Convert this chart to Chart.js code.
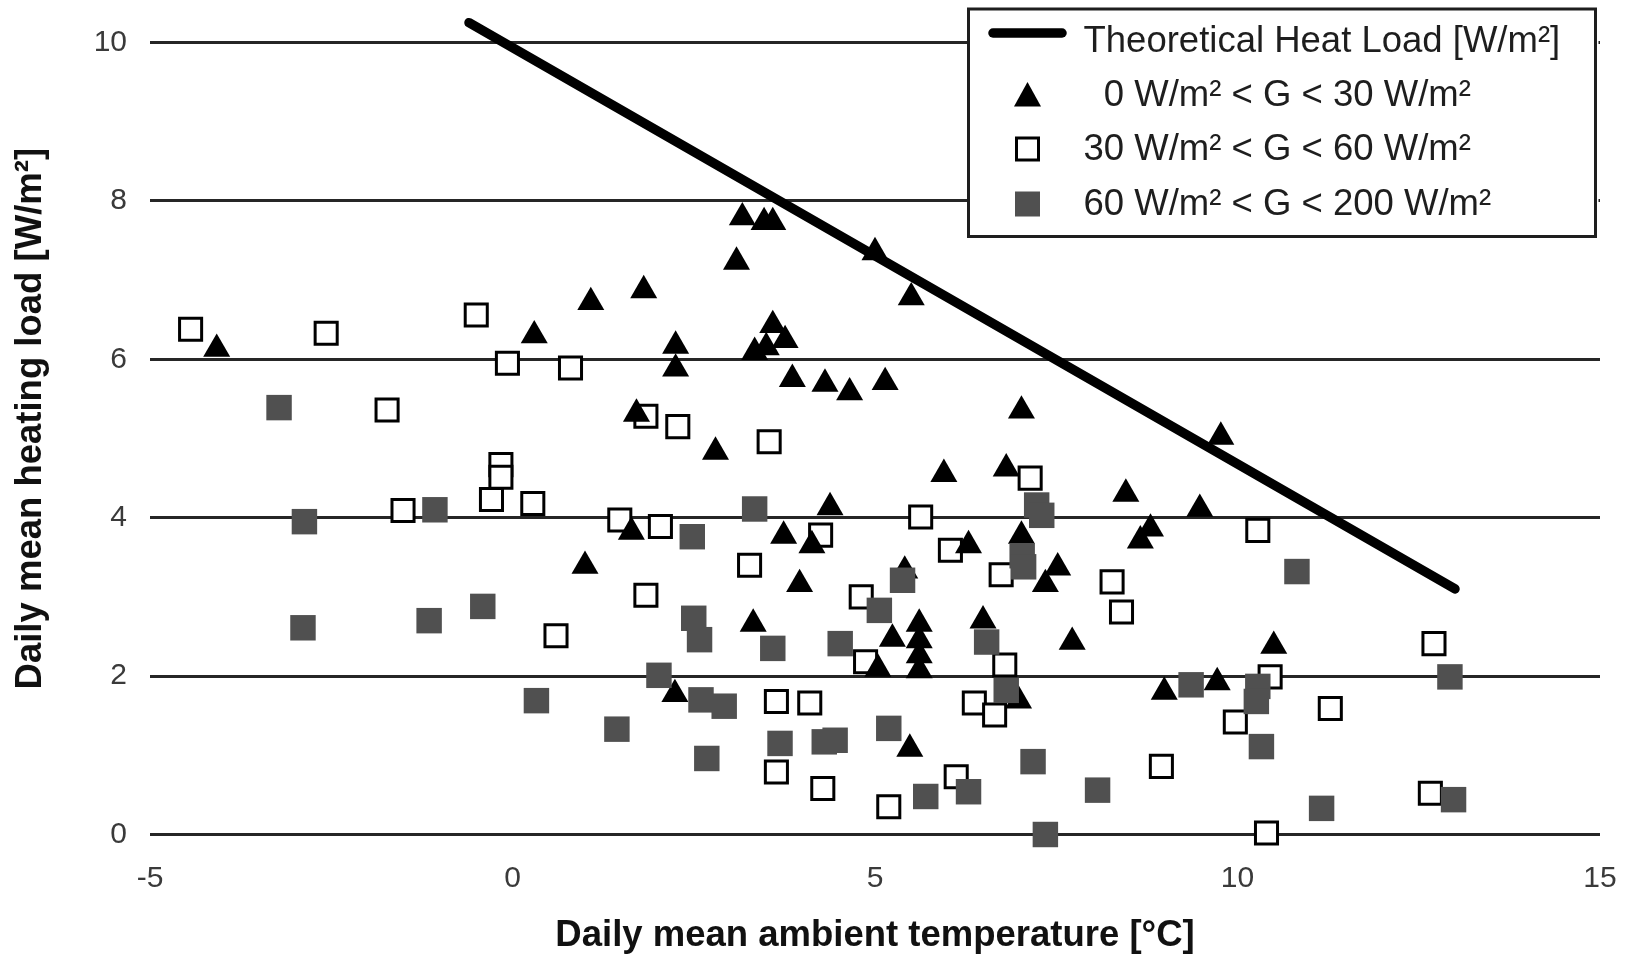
<!DOCTYPE html>
<html><head><meta charset="utf-8">
<script src="https://cdn.jsdelivr.net/npm/chart.js@4.4.1/dist/chart.umd.min.js"></script>
<style>html,body{margin:0;padding:0;background:#fff;}canvas{display:block;}</style>
</head><body>
<canvas id="c" width="1633" height="958" style="width:1633px;height:958px"></canvas>
<script>
// ---- data ----
const xTickValues = [-5, 0, 5, 10, 15];
const yTickValues = [0, 2, 4, 6, 8, 10];
const xTitle = 'Daily mean ambient temperature [°C]';
const yTitle = 'Daily mean heating load [W/m²]';
const seriesNames = ['Theoretical Heat Load [W/m²]', '  0 W/m² < G < 30 W/m²', '30 W/m² < G < 60 W/m²', '60 W/m² < G < 200 W/m²'];

const theoryT = [-0.6, 13.0];
const theoryLoad = [10.25, 3.1];

const lowT = [-4.08, 0.30, 1.08, 1.81, 3.09, 3.17, 3.47, 3.59, 5.00, 5.50, 2.25, 2.25, 3.59, 3.76, 3.34, 3.50, 3.86, 4.31, 4.65, 5.14,
  7.02, 1.71, 2.80, 5.95, 6.81, 9.77, 8.46, 9.48, 8.80, 8.66, 1.64, 4.38, 3.74, 4.13, 6.29, 7.02, 7.52, 7.35, 1.00, 3.96,
  5.41, 3.32, 5.24, 5.04, 5.61, 5.61, 5.61, 5.61, 6.49, 6.98, 7.72, 2.24, 5.48, 10.50, 8.99, 9.72];
const lowLoad = [6.13, 6.30, 6.72, 6.87, 7.23, 7.79, 7.73, 7.73, 7.35, 6.78, 6.17, 5.88, 6.43, 6.24, 6.09, 6.15, 5.75, 5.69, 5.58, 5.71,
  5.35, 5.31, 4.83, 4.55, 4.62, 5.02, 4.30, 4.11, 3.86, 3.71, 3.82, 4.13, 3.77, 3.65, 3.65, 3.77, 3.37, 3.16, 3.39, 3.16,
  3.33, 2.66, 2.47, 2.09, 2.66, 2.45, 2.26, 2.07, 2.70, 1.69, 2.43, 1.77, 1.08, 2.38, 1.80, 1.92];

const midT = [-4.44, -2.57, -1.73, -0.50, -0.07, 0.80, -0.16, -0.16, -0.29, 0.28, -1.51, 0.60, 1.84, 2.28, 3.54, 7.14, 1.48, 2.04, 4.25, 5.63,
  6.04, 6.74, 3.27, 1.84, 4.81, 4.87, 6.79, 6.37, 6.65, 3.64, 4.10, 3.64, 4.28, 5.19, 6.12, 10.28, 8.27, 8.40, 12.71, 10.45,
  9.97, 11.28, 8.95, 12.66, 10.40];
const midLoad = [6.38, 6.33, 5.36, 6.56, 5.95, 5.89, 4.67, 4.51, 4.23, 4.18, 4.09, 2.51, 5.28, 5.15, 4.96, 4.50, 3.97, 3.89, 3.78, 4.01,
  3.59, 3.28, 3.40, 3.02, 3.00, 2.18, 2.14, 1.66, 1.51, 1.68, 1.66, 0.79, 0.58, 0.35, 0.73, 3.84, 3.19, 2.81, 2.41, 1.99,
  1.42, 1.59, 0.86, 0.52, 0.02];

const highT = [-3.22, -2.87, -1.07, -0.41, -1.15, -2.89, 0.33, 7.23, 7.30, 2.48, 3.34, 7.03, 7.05, 5.38, 5.06, 2.50, 2.58, 3.59, 4.52, 6.54,
  6.81, 2.02, 2.60, 2.92, 1.44, 3.69, 4.30, 4.45, 5.19, 2.68, 5.70, 6.29, 7.18, 7.35, 8.07, 10.82, 9.36, 10.28, 10.26, 12.93,
  10.33, 11.16, 12.98];
const highLoad = [5.39, 3.95, 4.10, 2.88, 2.70, 2.61, 1.69, 4.16, 4.03, 3.76, 4.11, 3.52, 3.38, 3.21, 2.83, 2.73, 2.46, 2.35, 2.41, 2.43,
  1.82, 2.01, 1.70, 1.62, 1.33, 1.15, 1.17, 1.19, 1.34, 0.96, 0.48, 0.54, 0.92, 0.00, 0.56, 3.32, 1.89, 1.87, 1.68, 1.99,
  1.11, 0.33, 0.44];

const pts = (xs, ys) => xs.map((x, i) => ({x: x, y: ys[i]}));

const FONT = '"Liberation Sans", Arial, sans-serif';

const legendBox = {
  id: 'legendBox',
  afterDraw(chart) {
    const ctx = chart.ctx;
    const ds = chart.data.datasets;
    ctx.save();
    ctx.fillStyle = '#fff';
    ctx.fillRect(968.5, 9, 630, 227.5);
    ctx.strokeStyle = '#1e1e1e';
    ctx.lineWidth = 3;
    ctx.strokeRect(968.5, 9, 627, 227.5);
    ctx.strokeStyle = '#000';
    ctx.lineWidth = 9.5;
    ctx.lineCap = 'round';
    ctx.beginPath(); ctx.moveTo(993, 33); ctx.lineTo(1062, 33); ctx.stroke();
    ctx.fillStyle = '#000';
    ctx.beginPath(); ctx.moveTo(1027.5, 82); ctx.lineTo(1041, 106.5); ctx.lineTo(1014, 106.5); ctx.closePath(); ctx.fill();
    ctx.lineWidth = 3; ctx.lineCap = 'butt';
    ctx.strokeStyle = '#000'; ctx.fillStyle = '#fff';
    ctx.fillRect(1016.5, 138, 22, 22); ctx.strokeRect(1016.5, 138, 22, 22);
    ctx.fillStyle = '#505050';
    ctx.fillRect(1015, 191.5, 25, 25);
    ctx.fillStyle = '#1e1e1e';
    ctx.font = '36.5px ' + FONT;
    ctx.textBaseline = 'alphabetic';
    ctx.textAlign = 'left';
    const baselines = [51.5, 105.5, 160, 214.5];
    for (let i = 0; i < ds.length; i++) ctx.fillText(ds[i].label, 1083.5, baselines[i]);
    ctx.restore();
  }
};

new Chart(document.getElementById('c'), {
  type: 'scatter',
  data: {
    datasets: [
      { label: seriesNames[0], data: pts(theoryT, theoryLoad), showLine: true, borderColor: '#000', backgroundColor: '#000',
        borderWidth: 9.5, borderCapStyle: 'round', pointRadius: 0, order: 3, clip: false },
      { label: seriesNames[1], data: pts(lowT, lowLoad), pointStyle: 'triangle', pointRadius: 15.6, borderWidth: 0,
        backgroundColor: '#000', borderColor: '#000', order: 1, clip: false },
      { label: seriesNames[2], data: pts(midT, midLoad), pointStyle: 'rect', pointRadius: 15.6, borderWidth: 3,
        backgroundColor: '#fff', borderColor: '#000', order: 2, clip: false },
      { label: seriesNames[3], data: pts(highT, highLoad), pointStyle: 'rect', pointRadius: 18, borderWidth: 0,
        backgroundColor: '#505050', borderColor: '#505050', order: 0, clip: false }
    ]
  },
  options: {
    responsive: false,
    animation: false,
    devicePixelRatio: 1,
    events: [],
    layout: { autoPadding: false, padding: { top: 2.9, right: 33, bottom: 0, left: 0 } },
    plugins: { legend: { display: false }, tooltip: { enabled: false }, title: { display: false } },
    scales: {
      x: {
        type: 'linear', min: -5, max: 15,
        afterBuildTicks: s => { s.ticks = xTickValues.map(v => ({ value: v })); },
        afterFit: s => { s.height = 123.5; s.paddingLeft = 0; s.paddingRight = 0; s.paddingTop = 0; s.paddingBottom = 0; },
        grid: { display: false, drawTicks: false },
        border: { display: false },
        ticks: { padding: 26.5, color: '#3a3a3a', font: { family: FONT, size: 30 }, maxRotation: 0 },
        title: { display: true, text: xTitle, color: '#111', font: { family: FONT, size: 36.5, weight: 'bold' }, padding: { top: 0, bottom: 0 } }
      },
      y: {
        type: 'linear', min: 0, max: 10.5,
        afterBuildTicks: s => { s.ticks = yTickValues.map(v => ({ value: v })); },
        afterFit: s => { s.width = 150; s.paddingTop = 0; s.paddingBottom = 0; s.paddingLeft = 0; s.paddingRight = 0; },
        grid: { color: '#262626', lineWidth: 3, drawTicks: false },
        border: { display: false },
        ticks: { padding: 23, color: '#3a3a3a', font: { family: FONT, size: 30 } },
        title: { display: true, text: yTitle, color: '#111', font: { family: FONT, size: 36.5, weight: 'bold' }, padding: { top: 9, bottom: 0 } }
      }
    }
  },
  plugins: [legendBox]
});
</script>
</body></html>
